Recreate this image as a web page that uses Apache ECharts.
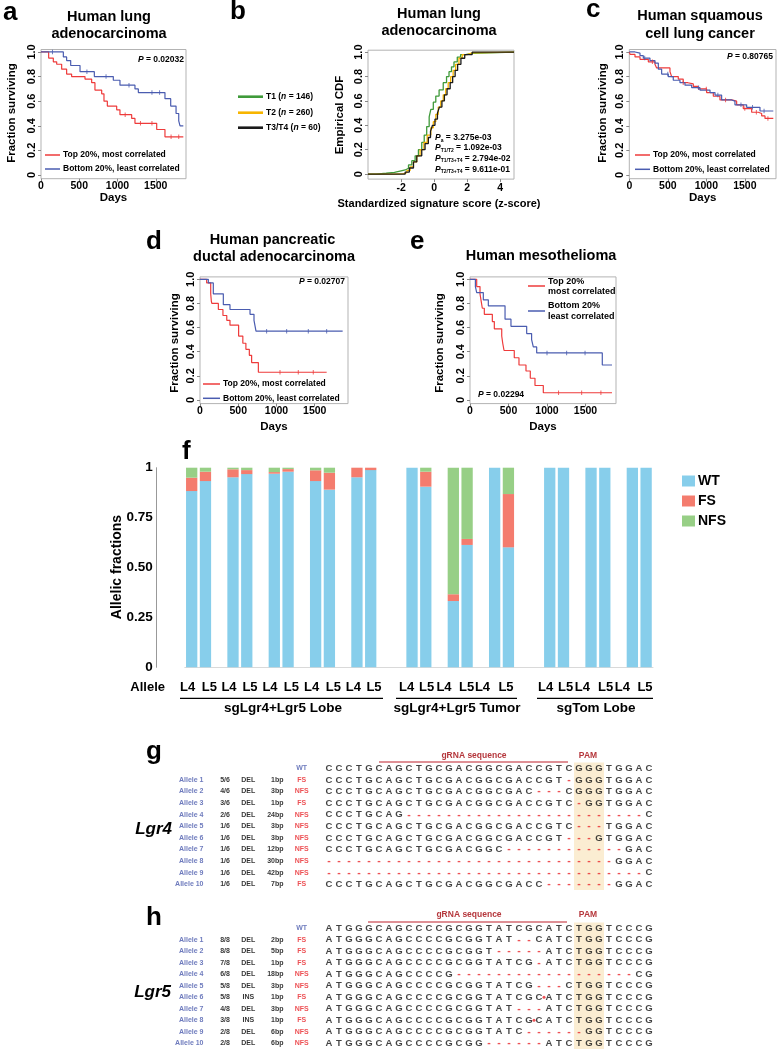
<!DOCTYPE html>
<html>
<head>
<meta charset="utf-8">
<script src="https://cdn.jsdelivr.net/npm/echarts@6.0.0/dist/echarts.min.js"></script>
<style>
html,body{margin:0;padding:0;background:#fff;}
#chart{width:778px;height:1050px;}
</style>
</head>
<body>
<div id="chart"></div>
<script>
// ================= DATA =================
// a: Human lung adenocarcinoma (Kaplan-Meier: [days, fraction surviving])
const aTop = [[0,1],[100,0.95],[161,0.92],[205,0.90],[270,0.86],[335,0.82],[400,0.80],[575,0.78],[662,0.75],[705,0.69],[793,0.66],[823,0.60],[867,0.56],[989,0.53],[1032,0.49],[1185,0.46],[1228,0.42],[1512,0.37],[1620,0.31],[1860,0.31]];
const aBottom = [[0,1],[292,0.96],[335,0.93],[388,0.89],[510,0.84],[697,0.80],[945,0.77],[1032,0.73],[1228,0.70],[1272,0.67],[1620,0.62],[1695,0.56],[1765,0.50],[1800,0.44],[1817,0.40],[1860,0.40]];
const aTopCensor = [1100, 1300, 1450, 1700, 1800];
const aBottomCensor = [150, 600, 850, 1150, 1450, 1550];
const aP = '0.02032';

// b: empirical CDF of standardized signature score
const bT1 = [[-4,0],[-3.5,0.007],[-2.9,0.014],[-2.4,0.027],[-2.0,0.034],[-1.75,0.048],[-1.55,0.075],[-1.35,0.11],[-1.15,0.15],[-0.95,0.2],[-0.75,0.26],[-0.6,0.32],[-0.45,0.39],[-0.3,0.47],[-0.2,0.53],[-0.05,0.59],[0.1,0.64],[0.3,0.69],[0.55,0.75],[0.75,0.8],[0.9,0.84],[1.05,0.88],[1.2,0.92],[1.4,0.96],[1.6,0.98],[1.9,0.99],[2.3,1.0],[4.83,1.0]];
const bT2 = [[-4,0],[-2.4,0.004],[-1.85,0.012],[-1.65,0.03],[-1.45,0.06],[-1.25,0.1],[-1.05,0.15],[-0.85,0.2],[-0.62,0.26],[-0.42,0.32],[-0.2,0.38],[-0.05,0.43],[0.1,0.49],[0.25,0.55],[0.4,0.6],[0.55,0.65],[0.7,0.7],[0.85,0.75],[1.0,0.8],[1.15,0.85],[1.3,0.9],[1.5,0.95],[1.7,0.98],[2.0,0.995],[2.3,1.0],[4.83,1.0]];
const bT34 = [[-4,0],[-1.75,0.017],[-1.5,0.05],[-1.25,0.1],[-1.05,0.15],[-0.75,0.2],[-0.55,0.25],[-0.35,0.3],[-0.22,0.35],[-0.1,0.4],[0.05,0.45],[0.2,0.5],[0.32,0.55],[0.47,0.6],[0.62,0.65],[0.78,0.7],[0.97,0.75],[1.12,0.8],[1.27,0.85],[1.42,0.9],[1.62,0.95],[1.85,0.98],[2.3,1.0],[4.83,1.0]];
const bLegend = [['T1','146'],['T2','260'],['T3/T4','60']];
const bPvals = [['a','3.275e-03'],['T1/T2','1.092e-03'],['T1/T3+T4','2.794e-02'],['T2/T3+T4','9.611e-01']];

// c: Human squamous cell lung cancer
const cTop = [[0,1],[10,0.98],[74,0.96],[139,0.94],[247,0.92],[333,0.90],[355,0.87],[528,0.84],[550,0.80],[636,0.78],[700,0.75],[760,0.74],[831,0.72],[896,0.70],[1004,0.67],[1091,0.64],[1177,0.61],[1329,0.60],[1394,0.57],[1480,0.54],[1589,0.51],[1675,0.50],[1719,0.48],[1762,0.46],[1870,0.46]];
const cBottom = [[0,1],[74,0.99],[139,0.97],[182,0.95],[268,0.93],[333,0.91],[377,0.86],[420,0.82],[506,0.80],[571,0.77],[658,0.75],[723,0.73],[810,0.71],[918,0.69],[1048,0.67],[1113,0.65],[1199,0.61],[1329,0.60],[1372,0.57],[1524,0.55],[1697,0.52],[1870,0.52]];
const cTopCensor = [300, 700, 1000, 1250, 1500, 1650, 1800];
const cBottomCensor = [200, 500, 900, 1150, 1450, 1600, 1750];
const cP = '0.80765';

// d: Human pancreatic ductal adenocarcinoma
const dTop = [[0,1],[87,0.97],[140,0.88],[148,0.82],[155,0.80],[240,0.75],[300,0.70],[350,0.66],[392,0.62],[505,0.53],[560,0.47],[600,0.42],[645,0.37],[675,0.31],[763,0.23],[1656,0.23]];
const dBottom = [[0,1],[109,0.97],[174,0.88],[305,0.79],[392,0.75],[654,0.71],[706,0.66],[732,0.57],[1865,0.57]];
const dTopCensor = [1046, 1285, 1481];
const dBottomCensor = [871, 1133, 1416, 1656];
const dP = '0.02707';

// e: Human mesothelioma
const eTop = [[0,1],[87,0.94],[130,0.88],[145,0.82],[160,0.76],[186,0.71],[290,0.65],[316,0.59],[412,0.53],[425,0.47],[442,0.41],[575,0.35],[636,0.29],[727,0.24],[783,0.18],[844,0.12],[952,0.06],[1844,0.06]];
const eBottom = [[0,1],[70,0.94],[87,0.89],[173,0.83],[238,0.78],[455,0.67],[532,0.61],[736,0.55],[800,0.50],[822,0.44],[866,0.39],[1718,0.29],[1844,0.29]];
const eTopCensor = [1150, 1450, 1700];
const eBottomCensor = [1000, 1255, 1494];
const eP = '0.02294';

// f: allelic fractions (stacked WT / FS / NFS), '' = gap slot
const fCategories = ['L4','L5','','L4','L5','','L4','L5','','L4','L5','','L4','L5','','',
                     'L4','L5','','L4','L5','','L4','L5','','',
                     'L4','L5','','L4','L5','','L4','L5'];
const fWT  = [0.883,0.933,0.952,0.968,0.970,0.980,0.933,0.890,0.952,0.988, 1.0,0.905,0.332,0.613,1.0,0.601, 1,1,1,1,1,1];
const fFS  = [0.067,0.047,0.040,0.020,0.008,0.013,0.054,0.085,0.048,0.012, 0,0.075,0.034,0.030,0,0.267, 0,0,0,0,0,0];
const fNFS = [0.050,0.020,0.008,0.012,0.022,0.007,0.013,0.025,0,0, 0,0.020,0.634,0.357,0,0.132, 0,0,0,0,0,0];
const fGroups = ['sgLgr4+Lgr5 Lobe','sgLgr4+Lgr5 Tumor','sgTom Lobe'];

// g: Lgr4 alleles
const gRows = ['WT','Allele 1','Allele 2','Allele 3','Allele 4','Allele 5','Allele 6','Allele 7','Allele 8','Allele 9','Allele 10'];
const gFrac = ['','5/6','4/6','3/6','2/6','1/6','1/6','1/6','1/6','1/6','1/6'];
const gMut  = ['','DEL','DEL','DEL','DEL','DEL','DEL','DEL','DEL','DEL','DEL'];
const gSize = ['','1bp','3bp','1bp','24bp','3bp','3bp','12bp','30bp','42bp','7bp'];
const gType = ['WT','FS','NFS','FS','NFS','NFS','NFS','NFS','NFS','NFS','FS'];
const gSeq = [
  'CCCTGCAGCTGCGACGGCGACCGTCGGGTGGAC',
  'CCCTGCAGCTGCGACGGCGACCGT-GGGTGGAC',
  'CCCTGCAGCTGCGACGGCGAC---CGGGTGGAC',
  'CCCTGCAGCTGCGACGGCGACCGTC-GGTGGAC',
  'CCCTGCAG------------------------C',
  'CCCTGCAGCTGCGACGGCGACCGTC---TGGAC',
  'CCCTGCAGCTGCGACGGCGACCGT---GTGGAC',
  'CCCTGCAGCTGCGACGGC------------GAC',
  '-----------------------------GGAC',
  '--------------------------------C',
  'CCCTGCAGCTGCGACGGCGACC-------GGAC'
];
const gIns = [];

// h: Lgr5 alleles
const hRows = ['WT','Allele 1','Allele 2','Allele 3','Allele 4','Allele 5','Allele 6','Allele 7','Allele 8','Allele 9','Allele 10'];
const hFrac = ['','8/8','8/8','7/8','6/8','5/8','5/8','4/8','3/8','2/8','2/8'];
const hMut  = ['','DEL','DEL','DEL','DEL','DEL','INS','DEL','INS','DEL','DEL'];
const hSize = ['','2bp','5bp','1bp','18bp','3bp','1bp','3bp','1bp','6bp','6bp'];
const hType = ['WT','FS','FS','FS','NFS','NFS','FS','NFS','FS','NFS','NFS'];
const hSeq = [
  'ATGGGCAGCCCCGCGGTATCGCATCTGGTCCCG',
  'ATGGGCAGCCCCGCGGTAT--CATCTGGTCCCG',
  'ATGGGCAGCCCCGCGGT-----ATCTGGTCCCG',
  'ATGGGCAGCCCCGCGGTATCG-ATCTGGTCCCG',
  'ATGGGCAGCCCCG------------------CG',
  'ATGGGCAGCCCCGCGGTATCG---CTGGTCCCG',
  'ATGGGCAGCCCCGCGGTATCGCATCTGGTCCCG',
  'ATGGGCAGCCCCGCGGTAT---ATCTGGTCCCG',
  'ATGGGCAGCCCCGCGGTATCGCATCTGGTCCCG',
  'ATGGGCAGCCCCGCGGTATC------GGTCCCG',
  'ATGGGCAGCCCCGCGG------ATCTGGTCCCG'
];
const hIns = [[6, 22.5], [8, 21.5]]; // [row, position between bases]
const pamRange = [25.5, 28.5];

// ================= STYLE / LAYOUT =================
const FONT = "'Liberation Sans', Arial, Helvetica, sans-serif";
const RED = '#ee3b3b', BLUE = '#4a5cb0';
const GREEN = '#3f9a3a', ORANGE = '#f7b500', BLACK = '#1a1a1a';
const WTC = '#87ceeb', FSC = '#f47c6e', NFSC = '#97cf86';
const DRED = '#b5373c', SEQRED = '#e8262b', ROWBLUE = '#4a5aad';

function stepAt(d, t) { let v = d[0][1]; for (const p of d) if (p[0] <= t) v = p[1]; return v; }

const grids = [], xAxes = [], yAxes = [], series = [], G = [];
function addGrid(g) {
  grids.push(Object.assign({show: true, borderColor: '#b3b3b3', borderWidth: 1, containLabel: false, outerBoundsMode: 'none'}, g));
  return grids.length - 1;
}
const fmtY = v => (Math.abs(v) < 1e-9 ? '0' : Number(v).toFixed(1));

function kmPanel(box, xMax, xTicks, yMin, yMax, curves, xMargin, xMin) {
  const gi = addGrid({left: box[0], top: box[1], width: box[2], height: box[3]});
  const yT = [0, 0.2, 0.4, 0.6, 0.8, 1];
  xAxes.push({type: 'value', gridIndex: gi, position: 'bottom', min: xMin || 0, max: xMax, axisLine: {show: false, onZero: false}, splitLine: {show: false},
    axisTick: {show: true, length: 3, customValues: xTicks, lineStyle: {color: '#888'}},
    axisLabel: {customValues: xTicks, margin: xMargin, fontSize: 10.5, fontWeight: 'bold', fontFamily: FONT, color: '#000', formatter: v => String(v)}});
  yAxes.push({type: 'value', gridIndex: gi, position: 'left', min: yMin, max: yMax, axisLine: {show: false, onZero: false}, splitLine: {show: false},
    axisTick: {show: true, length: 3, customValues: yT, lineStyle: {color: '#888'}},
    axisLabel: {customValues: yT, rotate: 90, margin: 4, fontSize: 11, fontWeight: 'bold', fontFamily: FONT, color: '#000', formatter: fmtY}});
  curves.forEach(c => {
    series.push({type: 'line', xAxisIndex: gi, yAxisIndex: gi, data: c.data, step: 'end', symbol: 'none', showSymbol: false,
      silent: true, lineStyle: {color: c.color, width: c.width || 1.2}, itemStyle: {color: c.color}, z: 3});
    if (c.censor) series.push({type: 'scatter', xAxisIndex: gi, yAxisIndex: gi,
      data: c.censor.map(t => [t, stepAt(c.data, t)]), symbol: 'rect', symbolSize: [1, 4.5],
      itemStyle: {color: c.color}, silent: true, z: 4});
  });
  return gi;
}

// graphic helpers
function txt(x, y, text, o) {
  o = o || {};
  const st = {text: text, fill: o.color || '#000',
    font: (o.italic ? 'italic ' : '') + (o.weight || 'bold') + ' ' + (o.size || 10) + 'px ' + FONT,
    align: o.align || 'left', verticalAlign: o.va || 'middle', textAlign: o.align || 'left', textVerticalAlign: o.va || 'middle'};
  if (o.rich) st.rich = o.rich;
  G.push({type: 'text', x: x, y: y, rotation: o.rot || 0, silent: true, z: 10, style: st});
}
function ln(x1, y1, x2, y2, color, w) {
  G.push({type: 'line', silent: true, z: 10, shape: {x1, y1, x2, y2}, style: {stroke: color, lineWidth: w || 1}});
}
function rs(size, extra) { return Object.assign({fontSize: size, fontWeight: 'bold', fontFamily: FONT, color: '#000'}, extra || {}); }
function pText(x, y, val, align) {
  txt(x, y, '{i|P}{n| = ' + val + '}', {align: align, size: 8.5, rich: {i: rs(8.5, {fontStyle: 'italic'}), n: rs(8.5)}});
}
function kmLegend(x1, x2, y1, y2, size) {
  ln(x1, y1, x2, y1, RED, 1.5); txt(x2 + 3, y1, 'Top 20%, most correlated', {size: size});
  ln(x1, y2, x2, y2, BLUE, 1.5); txt(x2 + 3, y2, 'Bottom 20%, least correlated', {size: size});
}

// ----- Panel a -----
kmPanel([41, 49.5, 145, 129.2], 1895, [0, 500, 1000, 1500], -0.03, 1.02,
  [{data: aTop, color: RED, censor: aTopCensor}, {data: aBottom, color: BLUE, censor: aBottomCensor}], 2);
txt(3, 13, 'a', {size: 26});
txt(109, 17, 'Human lung', {size: 14.5, align: 'center'});
txt(109, 33.5, 'adenocarcinoma', {size: 14.5, align: 'center'});
txt(12, 113, 'Fraction surviving', {size: 11.5, align: 'center', rot: Math.PI / 2});
txt(113.5, 198, 'Days', {size: 11.5, align: 'center'});
pText(184, 60, aP, 'right');
kmLegend(45, 60, 155, 169, 8.5);

// ----- Panel b -----
kmPanel([368, 50.2, 146, 128.9], 4.83, [-2, 0, 2, 4], -0.041, 1.016,
  [{data: bT1, color: GREEN, width: 1.3}, {data: bT2, color: ORANGE, width: 1.3}, {data: bT34, color: BLACK, width: 1.3}], 4, -4);
txt(230, 12, 'b', {size: 26});
txt(439, 14, 'Human lung', {size: 14.5, align: 'center'});
txt(439, 31, 'adenocarcinoma', {size: 14.5, align: 'center'});
txt(340, 115, 'Empirical CDF', {size: 11.5, align: 'center', rot: Math.PI / 2});
txt(439, 204, 'Standardized signature score (z-score)', {size: 11, align: 'center'});
[GREEN, ORANGE, BLACK].forEach((col, i) => {
  const y = [96.7, 112.7, 127.7][i];
  ln(238, y, 263, y, col, 2.6);
  txt(266, y, '{a|' + bLegend[i][0] + ' (}{i|n}{a| = ' + bLegend[i][1] + ')}', {size: 8.5,
    rich: {a: rs(8.5), i: rs(8.5, {fontStyle: 'italic'})}});
});
bPvals.forEach((p, i) => {
  const y = [137.7, 147.7, 158.3, 169.5][i];
  txt(435, y, '{i|P}{s|' + p[0] + '}{n| = ' + p[1] + '}', {size: 8.5,
    rich: {i: rs(8.5, {fontStyle: 'italic', lineHeight: 10}), s: rs(5, {verticalAlign: 'bottom', lineHeight: 5}), n: rs(8.5, {lineHeight: 10})}});
});

// ----- Panel c -----
kmPanel([629.3, 49.5, 146.7, 129.2], 1905, [0, 500, 1000, 1500], -0.03, 1.02,
  [{data: cTop, color: RED, censor: cTopCensor}, {data: cBottom, color: BLUE, censor: cBottomCensor}], 2);
txt(586, 9.5, 'c', {size: 26});
txt(700, 16, 'Human squamous', {size: 14.5, align: 'center'});
txt(700, 34, 'cell lung cancer', {size: 14.5, align: 'center'});
txt(603, 113, 'Fraction surviving', {size: 11.5, align: 'center', rot: Math.PI / 2});
txt(702.7, 198, 'Days', {size: 11.5, align: 'center'});
pText(773, 57, cP, 'right');
kmLegend(635, 650, 155, 169.3, 8.5);

// ----- Panel d -----
kmPanel([200, 276.9, 148, 126.7], 1935, [0, 500, 1000, 1500], -0.03, 1.02,
  [{data: dTop, color: RED, censor: dTopCensor}, {data: dBottom, color: BLUE, censor: dBottomCensor}], 2);
txt(146, 242, 'd', {size: 26});
txt(272.5, 240, 'Human pancreatic', {size: 14.5, align: 'center'});
txt(274, 257, 'ductal adenocarcinoma', {size: 14.5, align: 'center'});
txt(175, 343, 'Fraction surviving', {size: 11.5, align: 'center', rot: Math.PI / 2});
txt(274, 427, 'Days', {size: 11.5, align: 'center'});
pText(345, 282, dP, 'right');
kmLegend(203, 220, 384, 398.3, 8.5);

// ----- Panel e -----
kmPanel([470, 276.9, 146, 126.7], 1896, [0, 500, 1000, 1500], -0.03, 1.02,
  [{data: eTop, color: RED, censor: eTopCensor}, {data: eBottom, color: BLUE, censor: eBottomCensor}], 2);
txt(410, 242, 'e', {size: 26});
txt(541, 256, 'Human mesothelioma', {size: 14.5, align: 'center'});
txt(440, 343, 'Fraction surviving', {size: 11.5, align: 'center', rot: Math.PI / 2});
txt(543, 427, 'Days', {size: 11.5, align: 'center'});
pText(478, 395, eP, 'left');
ln(528, 286, 545, 286, RED, 1.5);
txt(548, 281.7, 'Top 20%', {size: 9}); txt(548, 291.7, 'most correlated', {size: 9});
ln(528, 311, 545, 311, BLUE, 1.5);
txt(548, 306, 'Bottom 20%', {size: 9}); txt(548, 316.7, 'least correlated', {size: 9});

// ----- Panel f -----
(function () {
  const gi = addGrid({left: 184.8, top: 467.7, width: 468.2, height: 199.6, show: false});
  xAxes.push({type: 'category', gridIndex: gi, data: fCategories.map((c, i) => String(i)),
    axisLine: {show: true, onZero: false, lineStyle: {color: '#d9d9d9', width: 1}}, axisTick: {show: false}, axisLabel: {show: false}, splitLine: {show: false}});
  yAxes.push({type: 'value', gridIndex: gi, min: 0, max: 1, interval: 0.25, offset: 29,
    axisLine: {show: true, onZero: false, lineStyle: {color: '#999'}}, axisTick: {show: false}, splitLine: {show: false},
    axisLabel: {margin: 3, fontSize: 13.5, fontWeight: 'bold', fontFamily: FONT, color: '#000',
      formatter: v => (v === 0 ? '0' : v === 1 ? '1' : v.toFixed(2))}});
  const wt = [], fs = [], nfs = [];
  let k = 0;
  fCategories.forEach(c => {
    if (c === '') { wt.push('-'); fs.push('-'); nfs.push('-'); }
    else { wt.push(fWT[k]); fs.push(fFS[k]); nfs.push(fNFS[k]); k++; }
  });
  [['WT', wt, WTC], ['FS', fs, FSC], ['NFS', nfs, NFSC]].forEach(s => {
    series.push({type: 'bar', name: s[0], stack: 'f', xAxisIndex: gi, yAxisIndex: gi, data: s[1], barWidth: 11.3,
      itemStyle: {color: s[2]}, silent: true, z: 3});
  });
})();
txt(182, 452, 'f', {size: 26});
txt(117, 567, 'Allelic fractions', {size: 14, align: 'center', rot: Math.PI / 2});
txt(165, 687.3, 'Allele', {size: 13, align: 'right'});
const fLabelX = [187.7, 209.3, 229, 250, 270, 291.3, 311.7, 333.3, 353.3, 374,
                 406.7, 426.7, 444, 466.7, 482.5, 506,
                 545.7, 565.7, 582.3, 605.7, 622.3, 645];
fCategories.filter(c => c !== '').forEach((c, i) => txt(fLabelX[i], 687.3, c, {size: 13, align: 'center'}));
const fGroupLines = [[180, 383, 283], [396, 517, 457], [537, 653, 596]];
fGroups.forEach((g, i) => {
  ln(fGroupLines[i][0], 698.3, fGroupLines[i][1], 698.3, '#000', 1.2);
  txt(fGroupLines[i][2], 707.8, g, {size: 13.5, align: 'center'});
});

// ----- Panels g, h (sequence alignments) -----
const colX = {name: -11.5, frac: -9.4, mut: -7.07, size: -3.5, type: -1.73};
function seqPanel(top, height, rows, frac, mut, size, type, seqs, ins) {
  const gi = addGrid({left: 99, top: top, width: 600, height: height, show: false});
  xAxes.push({type: 'value', gridIndex: gi, min: -22, max: 38, show: false, splitLine: {show: false}});
  yAxes.push({type: 'category', gridIndex: gi, data: rows, inverse: true, show: false});
  const letters = [], dashes = [];
  seqs.forEach((s, r) => {
    s.split('').forEach((ch, k) => {
      if (ch === '-') dashes.push({name: ch, value: [k + 1, r]});
      else letters.push({name: ch, value: [k + 1, r]});
    });
  });
  const lab = (sz, color, pos) => ({show: true, position: pos || 'inside', distance: 0, formatter: p => p.name,
    fontSize: sz, fontWeight: 'bold', fontFamily: FONT, color: color});
  const base = {type: 'scatter', xAxisIndex: gi, yAxisIndex: gi, symbolSize: 1, itemStyle: {color: 'rgba(0,0,0,0)'}, silent: true, z: 3};
  series.push(Object.assign({}, base, {data: letters, label: lab(9.5, '#111'),
    markArea: {silent: true, itemStyle: {color: '#fbedd2'}, data: [[{xAxis: pamRange[0]}, {xAxis: pamRange[1]}]]}}));
  series.push(Object.assign({}, base, {data: dashes, label: lab(10.5, SEQRED)}));
  const col = (arr, x) => arr.map((t, r) => t ? {name: t, value: [x, r]} : null).filter(Boolean);
  series.push(Object.assign({}, base, {data: col(rows.map((n, r) => r ? n : ''), colX.name), label: lab(7, ROWBLUE, 'left')}));
  series.push(Object.assign({}, base, {data: col(frac, colX.frac), label: lab(7, '#000')}));
  series.push(Object.assign({}, base, {data: col(mut, colX.mut), label: lab(7, '#000')}));
  series.push(Object.assign({}, base, {data: col(size, colX.size), label: lab(7, '#000', 'left')}));
  series.push(Object.assign({}, base, {data: type.map((t, r) => ({name: t, value: [colX.type, r],
    label: {color: t === 'WT' ? ROWBLUE : SEQRED}})), label: lab(7, SEQRED)}));
  if (ins.length) series.push({type: 'scatter', xAxisIndex: gi, yAxisIndex: gi, data: ins.map(p => [p[1], p[0]]),
    symbol: 'circle', symbolSize: 3, itemStyle: {color: SEQRED}, silent: true, z: 4});
}
seqPanel(762.5, 127.6, gRows, gFrac, gMut, gSize, gType, gSeq, gIns);
seqPanel(922.6, 126.5, hRows, hFrac, hMut, hSize, hType, hSeq, hIns);

txt(146, 752, 'g', {size: 26});
txt(172, 829, 'Lgr4', {size: 17, italic: true, align: 'right'});
ln(379, 762, 568, 762, '#d46a72', 1.5);
txt(474, 755.5, 'gRNA sequence', {size: 8.5, color: DRED, align: 'center'});
txt(588, 755.5, 'PAM', {size: 8.5, color: DRED, align: 'center'});

txt(146, 918, 'h', {size: 26});
txt(171, 992, 'Lgr5', {size: 17, italic: true, align: 'right'});
ln(368, 922, 567, 922, '#d46a72', 1.5);
txt(469, 915, 'gRNA sequence', {size: 8.5, color: DRED, align: 'center'});
txt(588, 915, 'PAM', {size: 8.5, color: DRED, align: 'center'});

// ================= CHART =================
const chart = echarts.init(document.getElementById('chart'), null, {renderer: 'canvas', width: 778, height: 1050});
chart.setOption({
  animation: false,
  backgroundColor: '#fff',
  textStyle: {fontFamily: FONT},
  grid: grids,
  xAxis: xAxes,
  yAxis: yAxes,
  legend: {show: true, data: ['WT', 'FS', 'NFS'], orient: 'vertical', left: 677, top: 469,
    itemWidth: 13, itemHeight: 11, itemGap: 6, icon: 'rect', selectedMode: false,
    textStyle: {fontSize: 14, fontWeight: 'bold', fontFamily: FONT, color: '#000', lineHeight: 14, padding: [0, 0, 0, -2]}},
  series: series,
  graphic: G
});
</script>
</body>
</html>
